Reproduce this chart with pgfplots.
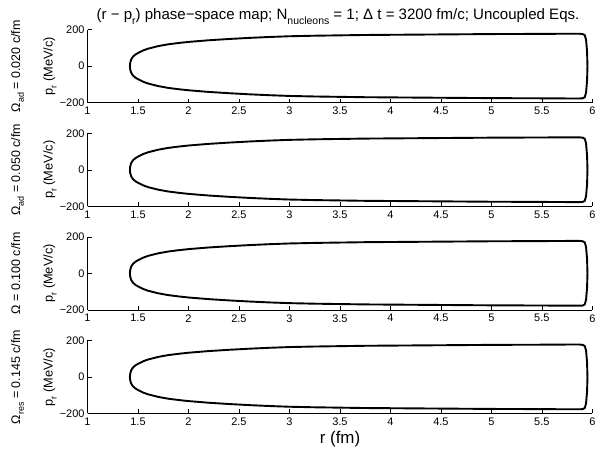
\documentclass[border=0pt]{standalone}
\usepackage{pgfplots}
\usepackage{pgfplotstable}
\pgfplotsset{compat=1.18}
\usepackage{fontspec}
\setmainfont{Liberation Sans}
\newcommand\sub[2][8]{\raisebox{-0.32em}{\fontsize{#1}{#1}\selectfont #2}}

\pgfplotstableread{
r p
1.420 0
1.423 18
1.432 36
1.450 52
1.475 64
1.500 72
1.550 86
1.600 96
1.700 110
1.800 120
1.900 127
2.000 133
2.200 142
2.400 149
2.600 155
2.800 160
3.000 164
3.250 167
3.500 169
3.750 171
4.000 172
4.500 174
5.000 176
5.500 177
5.800 178
5.870 178
5.905 176
5.925 170
5.938 145
5.948 80
5.952 0
5.948 -80
5.938 -145
5.925 -170
5.905 -176
5.870 -177
5.800 -177
5.500 -176
5.000 -175
4.500 -173
4.000 -171
3.750 -170
3.500 -168
3.250 -166
3.000 -163
2.800 -159
2.600 -154
2.400 -148
2.200 -141
2.000 -132
1.900 -126
1.800 -119
1.700 -109
1.600 -95
1.550 -85
1.500 -71
1.475 -63
1.450 -51
1.432 -35
1.423 -18
1.420 0
}\loopdata

\pgfplotsset{panel/.style={
  width=504.8bp, height=73bp, scale only axis, anchor=south west,
  xmin=1, xmax=6, ymin=-200, ymax=200,
  axis lines=left, axis line style={-, line width=0.5bp, black},
  tick align=inside, major tick length=4bp,
  tick style={line width=0.5bp, black},
  xtick={1,1.5,2,2.5,3,3.5,4,4.5,5,5.5,6},
  xticklabels={1,1.5,2,2.5,3,3.5,4,4.5,5,5.5,6},
  ytick={-200,0,200}, yticklabels={−200,0,200},
  ticklabel style={font=\fontsize{11}{12}\selectfont},
  xticklabel style={yshift=-1bp},
  yticklabel style={xshift=0.5bp},
  clip=false,
}}

\begin{document}
\begin{tikzpicture}[x=1bp,y=1bp]
\useasboundingbox (0,0) rectangle (597,450);

\begin{axis}[panel, at={(87.5bp,347.3bp)}]
\addplot[black, line width=1.9bp] table[x=r,y=p] {\loopdata};
\end{axis}
\begin{axis}[panel, at={(87.5bp,243.7bp)}]
\addplot[black, line width=1.9bp] table[x=r,y=p] {\loopdata};
\end{axis}
\begin{axis}[panel, at={(87.5bp,140.1bp)}]
\addplot[black, line width=1.9bp] table[x=r,y=p] {\loopdata};
\end{axis}
\begin{axis}[panel, at={(87.5bp,36.5bp)}]
\addplot[black, line width=1.9bp] table[x=r,y=p] {\loopdata};
\end{axis}

% title
\node[anchor=base, font=\fontsize{15.1}{17}\selectfont, inner sep=0] at (338,430.5)
  {(r − p\sub[10.5]{r}) phase−space map; N\sub[10.5]{nucleons} = 1; Δ t = 3200 fm/c; Uncoupled Eqs.};
% x label
\node[anchor=base, font=\fontsize{17}{19}\selectfont, inner sep=0] at (340,6.5) {r (fm)};

% y labels
\foreach \yc in {383.8,280.2,176.6,73.0}{
  \node[rotate=90, anchor=base, font=\fontsize{12.8}{14}\selectfont, inner sep=0] at (52.5,\yc) {p\sub[9]{r} (MeV/c)};
}
\node[rotate=90, anchor=base, font=\fontsize{12.5}{14}\selectfont, inner sep=0] at (20,383.8) {Ω\sub[9]{ad} = 0.020 c/fm};
\node[rotate=90, anchor=base, font=\fontsize{12.5}{14}\selectfont, inner sep=0] at (20,280.2) {Ω\sub[9]{ad} = 0.050 c/fm};
\node[rotate=90, anchor=base, font=\fontsize{12.5}{14}\selectfont, inner sep=0] at (20,176.6) {Ω = 0.100 c/fm};
\node[rotate=90, anchor=base, font=\fontsize{12.5}{14}\selectfont, inner sep=0] at (20,73.0) {Ω\sub[9]{res} = 0.145 c/fm};
\end{tikzpicture}
\end{document}
